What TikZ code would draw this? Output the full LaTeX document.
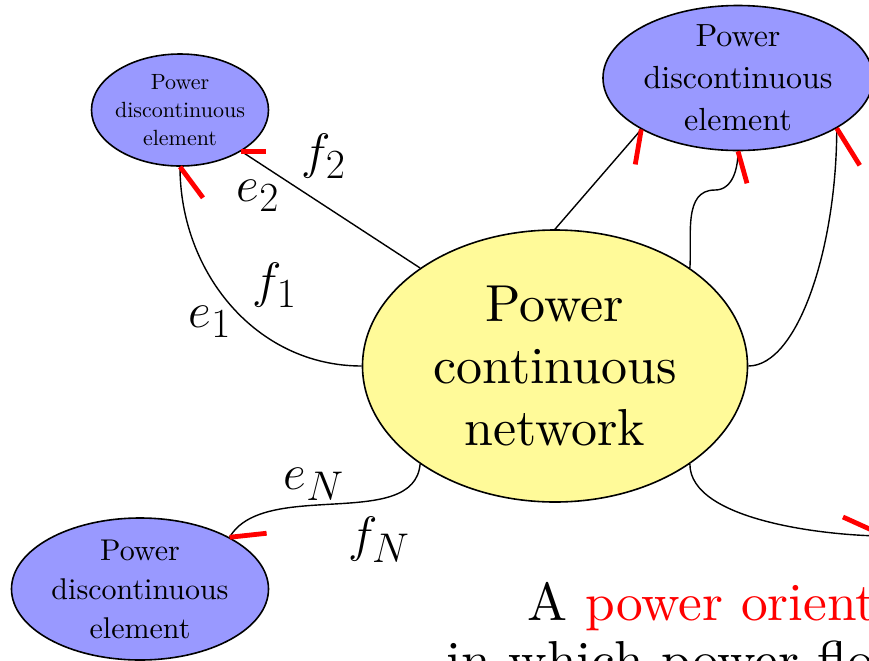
\documentclass[tikz,border=0pt]{standalone}
\usepackage{fontspec}
\setmainfont{lmroman10-regular}[Extension=.otf]
\usetikzlibrary{positioning,shapes.geometric}

\begin{document}
\begin{tikzpicture}[
  x=0.5pt, y=0.5pt,
  net/.style={ellipse, draw, line width=0.8pt, fill=yellow!40, align=center, inner sep=-20pt, font=\fontsize{26}{31}\selectfont},
  elem/.style={ellipse, draw, line width=0.8pt, fill=blue!40, align=center, inner sep=-20pt},
  wire/.style={line width=0.7pt},
  orient/.style={draw=red, line width=2.4pt},
  lbl/.style={font=\fontsize{24.88}{30}\selectfont},
  captext/.style={anchor=base west, inner sep=0, font=\fontsize{26.7}{32}\selectfont}
]
\useasboundingbox (0,-660) rectangle (869,0);
\clip (0,-660) rectangle (869,0);

\node[net, minimum width=192.5pt, minimum height=136pt] (net) at (555,-366) {Power\\continuous\\network};
\node[elem, minimum width=88.5pt, minimum height=56pt, font=\fontsize{11}{14}\selectfont] (elemA) at (180,-110) {Power\\discontinuous\\element};
\node[elem, minimum width=135pt, minimum height=72.5pt, font=\fontsize{16}{21}\selectfont] (elemB) at (738,-78) {Power\\discontinuous\\element};
\node[elem, minimum width=128.5pt, minimum height=71pt, font=\fontsize{15}{19.5}\selectfont] (elemC) at (140,-589) {Power\\discontinuous\\element};
\coordinate (elemD) at (885,-536);

% ports
\draw[wire] (net.west) to[out=180,in=-90] (elemA.south);
\draw[wire] (net.144) -- (elemA.-34);
\draw[wire] (net.north) -- (elemB.208);
\draw[wire] (net.36) to[out=86,in=180] ++(25,78) to[out=0,in=-90] (elemB.south);
\draw[wire] (net.east) to[out=0,in=-90,out looseness=0.5,in looseness=1.2] (elemB.-27);
\draw[wire] (net.-144) to[out=-95,in=60,looseness=0.85] (elemC.30);
\draw[wire] (net.-36) to[out=-90,in=180,looseness=0.7] (elemD);

% power orientation strokes
\draw[orient] (elemA.south) -- ++(23,-31);
\draw[orient] (elemA.-34) -- ++(25,0);
\draw[orient] (elemB.208) -- ++(-6,-35);
\draw[orient] (elemB.south) -- ++(9,-32);
\draw[orient] (elemB.-27) -- ++(23,-37);
\draw[orient] (elemC.30) -- ++(37,4);
\draw[orient] (elemD) -- ++(-42,19);

\node[lbl] (e1) at (210,-322) {$e_1$};
\node[lbl] (f1) at (275,-285) {$f_1$};
\node[lbl] (e2) at (258,-196) {$e_2$};
\node[lbl] (f2) at (324,-156) {$f_2$};
\node[lbl] (eN) at (314,-484) {$e_N$};
\node[lbl] (fN) at (379,-540) {$f_N$};

\node[captext] (capA) at (527,-620) {A \textcolor{red}{power oriented}};
\node[captext] (capB) at (446,-678) {in which power flows};
\end{tikzpicture}
\end{document}
